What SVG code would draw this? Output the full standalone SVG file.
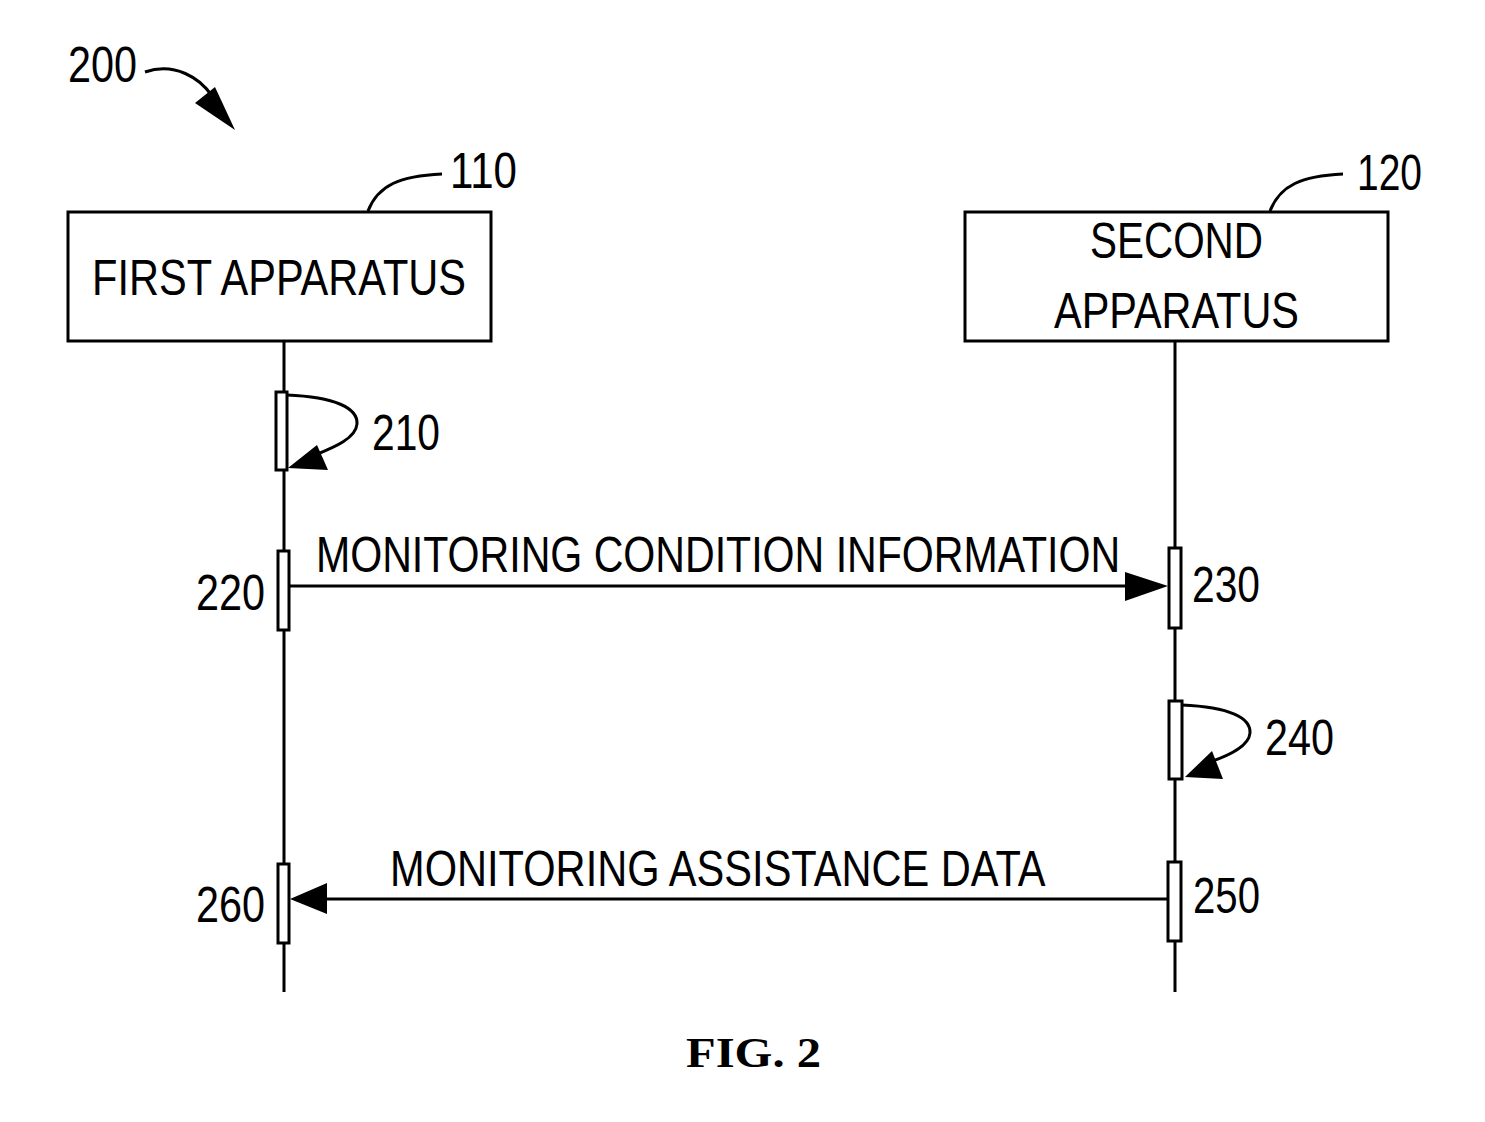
<svg xmlns="http://www.w3.org/2000/svg" width="1485" height="1122" viewBox="0 0 1485 1122">
<style>
text{font-family:"Liberation Sans",Arial,sans-serif;font-size:50px;fill:#000}
.box{fill:#fff;stroke:#000;stroke-width:3}
.act{fill:#fff;stroke:#000;stroke-width:3}
.ln{fill:none;stroke:#000;stroke-width:3}
.ah{fill:#000;stroke:none}
.fig{font-family:"Liberation Serif","Times New Roman",serif;font-weight:bold;font-size:42px}
</style>
<g id="ref200">
<text x="68" y="82" textLength="69" lengthAdjust="spacingAndGlyphs">200</text>
<path class="ln" d="M145,72 C175,62 200,78 212,96" stroke-width="4"/>
<polygon class="ah" points="235,130 195,103 215,87"/>
</g>
<g id="lifelines">
<line class="ln" x1="284" y1="341" x2="284" y2="992"/>
<line class="ln" x1="1175" y1="341" x2="1175" y2="992"/>
</g>
<g id="node110">
<rect class="box" x="68" y="212" width="423" height="129"/>
<text x="92" y="295" textLength="374" lengthAdjust="spacingAndGlyphs">FIRST APPARATUS</text>
<path class="ln" d="M368,211 C378,185 400,176 442,174"/>
<text x="450" y="188" textLength="67" lengthAdjust="spacingAndGlyphs">110</text>
</g>
<g id="node120">
<rect class="box" x="965" y="212" width="423" height="129"/>
<text x="1090" y="258" textLength="173" lengthAdjust="spacingAndGlyphs">SECOND</text>
<text x="1054" y="328" textLength="245" lengthAdjust="spacingAndGlyphs">APPARATUS</text>
<path class="ln" d="M1270,211 C1280,185 1302,176 1343,174"/>
<text x="1357" y="190" textLength="65" lengthAdjust="spacingAndGlyphs">120</text>
</g>
<g id="step210">
<rect class="act" x="276" y="392" width="11" height="78"/>
<path class="ln" d="M287,395 C335,397 358,408 357,424 C356,438 335,447 315,455"/>
<polygon class="ah" points="288,468 317,445 328,470"/>
<text x="372" y="450" textLength="68" lengthAdjust="spacingAndGlyphs">210</text>
</g>
<g id="step220">
<rect class="act" x="278" y="551" width="11" height="79"/>
<text x="196" y="610" textLength="69" lengthAdjust="spacingAndGlyphs">220</text>
</g>
<g id="step230">
<rect class="act" x="1169" y="548" width="12" height="80"/>
<text x="1192" y="602" textLength="68" lengthAdjust="spacingAndGlyphs">230</text>
</g>
<g id="step240">
<rect class="act" x="1169" y="701" width="13" height="78"/>
<path class="ln" d="M1182,705 C1230,707 1251,718 1250,733 C1249,746 1230,755 1210,762"/>
<polygon class="ah" points="1185,777 1212,751 1223,779"/>
<text x="1265" y="755" textLength="69" lengthAdjust="spacingAndGlyphs">240</text>
</g>
<g id="step250">
<rect class="act" x="1168" y="862" width="13" height="79"/>
<text x="1193" y="913" textLength="67" lengthAdjust="spacingAndGlyphs">250</text>
</g>
<g id="step260">
<rect class="act" x="278" y="864" width="11" height="79"/>
<text x="196" y="922" textLength="69" lengthAdjust="spacingAndGlyphs">260</text>
</g>
<g id="connectors">
<line class="ln" x1="290" y1="586" x2="1130" y2="586"/>
<polygon class="ah" points="1168,586 1125,572 1125,601"/>
<text transform="translate(316,572) scale(0.822,1)" x="0" y="0">MONITORING CONDITION INFORMATION</text>
<line class="ln" x1="1167" y1="899" x2="322" y2="899"/>
<polygon class="ah" points="290,899 327,883 327,914"/>
<text transform="translate(390,886) scale(0.832,1)" x="0" y="0">MONITORING ASSISTANCE DATA</text>
</g>
<text class="fig" x="686" y="1067" textLength="135" lengthAdjust="spacingAndGlyphs">FIG. 2</text>
</svg>
